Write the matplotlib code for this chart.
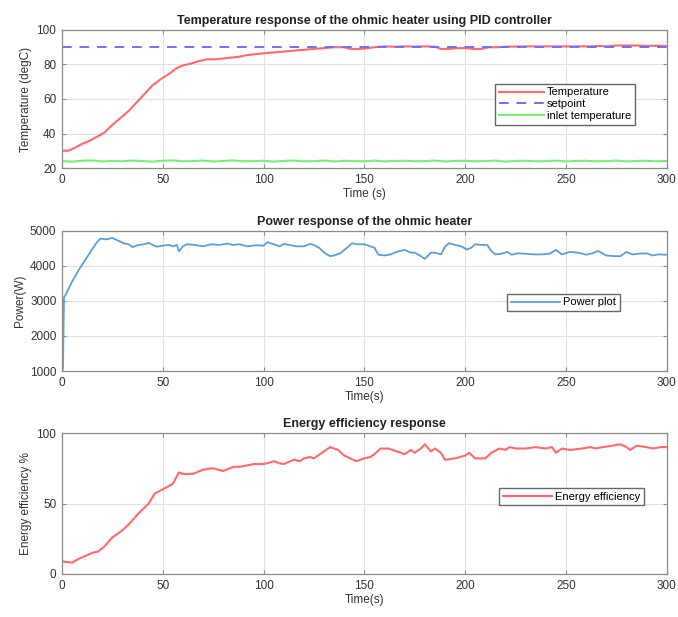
import numpy as np
import matplotlib
matplotlib.use("Agg")
import matplotlib.pyplot as plt

plt.rcParams['font.family'] = ['Liberation Sans', 'DejaVu Sans']

# ---- Data ----
temp_t = [0, 3, 6, 10, 14, 18, 21, 25, 29, 33, 37, 41, 45, 49, 53, 57, 60, 64, 68, 72, 76, 80,
          84, 88, 92, 96, 100, 105, 110, 115, 120, 125, 130, 135, 140, 143, 147, 150, 155, 160,
          165, 170, 175, 180, 185, 188, 192, 196, 200, 204, 208, 212, 216, 220, 230, 240, 250,
          260, 265, 270, 275, 280, 285, 290, 295, 300]
temp_v = [30, 30, 31.5, 34, 36, 38.5, 40.5, 45, 49, 53, 58, 63, 68, 71.5, 74.5, 78, 79.5, 80.5,
          82, 83, 83, 83.5, 84, 84.5, 85.5, 86, 86.5, 87, 87.5, 88, 88.5, 89, 89.5, 90, 90, 89,
          89, 89.2, 90, 90.5, 90.3, 90.5, 90.4, 90.5, 90.3, 89, 89, 89.5, 89.5, 89, 89, 90, 90,
          90.3, 90.5, 90.5, 90.5, 90.5, 90.7, 90.5, 91, 91, 91, 90.8, 90.8, 90.8]

setpoint_t = [0, 300]
setpoint_v = [90, 90]

inlet_t = list(range(0, 301, 5))
inlet_v = [24, 23.7, 24.2, 24.4, 23.8, 24.1, 23.9, 24.3, 24.0, 23.7, 24.2, 24.4, 23.9, 24.0,
           24.3, 23.8, 24.1, 24.4, 23.9, 24.0, 24.2, 23.7, 24.1, 24.3, 23.9, 24.0, 24.3, 23.8,
           24.2, 24.0, 23.9, 24.3, 23.8, 24.1, 24.2, 23.9, 24.0, 24.3, 23.8, 24.1, 24.2, 23.9,
           24.0, 24.3, 23.7, 24.1, 24.2, 23.9, 24.0, 24.3, 23.8, 24.1, 24.2, 23.9, 24.0, 24.3,
           23.8, 24.1, 24.2, 23.9, 24.1]

power_t = [0, 0.5, 1, 2, 5, 9, 13, 17, 19, 22, 25, 28, 31, 33, 35, 38, 41, 43, 45, 47, 50, 53,
           55, 57, 58, 60, 62, 66, 70, 74, 78, 82, 85, 88, 92, 96, 100, 102, 105, 108, 110, 113,
           116, 120, 123, 125, 128, 130, 133, 135, 138, 141, 144, 146, 150, 153, 155, 157, 160,
           163, 166, 170, 173, 175, 178, 180, 183, 185, 188, 190, 192, 195, 198, 201, 203, 205,
           208, 211, 213, 215, 218, 221, 223, 226, 230, 234, 238, 242, 245, 248, 252, 256, 260,
           263, 266, 270, 274, 277, 280, 283, 286, 290, 293, 296, 300]
power_v = [1000, 1050, 3100, 3200, 3550, 3950, 4300, 4650, 4780, 4760, 4800, 4720, 4640, 4620,
           4540, 4600, 4620, 4660, 4600, 4550, 4580, 4600, 4560, 4600, 4420, 4560, 4620, 4600,
           4560, 4620, 4600, 4640, 4600, 4620, 4560, 4590, 4580, 4680, 4620, 4560, 4630, 4600,
           4560, 4560, 4630, 4600, 4500, 4380, 4280, 4300, 4360, 4500, 4650, 4620, 4620, 4560,
           4520, 4320, 4300, 4330, 4400, 4460, 4380, 4380, 4280, 4200, 4380, 4380, 4330, 4550,
           4650, 4600, 4560, 4470, 4520, 4620, 4600, 4600, 4420, 4330, 4350, 4400, 4320, 4360,
           4350, 4330, 4330, 4350, 4460, 4330, 4400, 4380, 4320, 4360, 4430, 4300, 4280, 4280,
           4400, 4330, 4350, 4360, 4300, 4330, 4320]

eff_t = [0, 5, 8, 12, 15, 18, 21, 25, 30, 33, 38, 43, 46, 50, 55, 58, 60, 65, 70, 75, 80, 85,
         88, 92, 95, 100, 103, 105, 108, 110, 115, 118, 120, 123, 125, 130, 133, 137, 140, 143,
         146, 150, 153, 155, 158, 162, 166, 168, 170, 173, 175, 178, 180, 183, 185, 188, 190,
         195, 200, 202, 205, 210, 213, 217, 220, 222, 225, 230, 235, 240, 243, 245, 248, 252,
         258, 262, 265, 268, 273, 277, 280, 282, 285, 290, 293, 297, 300]
eff_v = [9, 8, 10.5, 13, 15, 16, 19.5, 26, 31, 35, 43, 50, 57, 60, 64, 72, 71, 71, 74, 75, 73,
         76, 76, 77, 78, 78, 79, 80, 78.5, 78, 81, 80, 82, 83, 82, 87, 90, 88, 84, 82, 80, 82,
         83, 85, 89, 89, 87, 86, 85, 88, 86, 89, 92, 87, 89, 86, 81, 82, 84, 86, 82, 82, 86, 89,
         88, 90, 89, 89, 90, 89, 90, 86, 89, 88, 89, 90, 89, 90, 91, 92, 90, 88, 91, 90, 89, 90,
         90]

# ---- Figure ----
fig = plt.figure(figsize=(6.78, 6.17), dpi=100)
left, width = 0.0914, 0.892
ax1 = fig.add_axes([left, 0.7277, width, 0.2237])
ax2 = fig.add_axes([left, 0.3987, width, 0.2270])
ax3 = fig.add_axes([left, 0.0697, width, 0.2285])

tick_fs = 8.5
lab_fs = 8.5
title_fs = 9
leg_fs = 8

def style(ax):
    ax.grid(True, color='#e2e2e2', linewidth=0.8)
    ax.set_axisbelow(True)
    for s in ax.spines.values():
        s.set_color('#8c8c8c')
        s.set_linewidth(0.9)
    ax.tick_params(direction='in', length=3, colors='#8c8c8c', labelcolor='#333333',
                   labelsize=tick_fs, top=True, right=True, pad=4)
    ax.set_xlim(0, 300)
    ax.set_xticks(range(0, 301, 50))

ax1.plot(temp_t, temp_v, color='#ff6a6a', lw=1.5, label='Temperature')
ax1.plot(setpoint_t, setpoint_v, color='#7070ff', lw=1.4, ls=(0, (5, 4)), label='setpoint')
ax1.plot(inlet_t, inlet_v, color='#77ee77', lw=1.5, label='inlet temperature')
style(ax1)
ax1.set_ylim(20, 100)
ax1.set_yticks(range(20, 101, 20))
ax1.set_title('Temperature response of the ohmic heater using PID controller',
              fontsize=title_fs, fontweight='bold', pad=4, color='#222222')
ax1.set_xlabel('Time (s)', fontsize=lab_fs, color='#333333', labelpad=2)
ax1.set_ylabel('Temperature (degC)', fontsize=lab_fs, color='#333333', labelpad=3)
ax1.legend(loc='upper right', bbox_to_anchor=(0.957, 0.652), fontsize=leg_fs, fancybox=False,
           edgecolor='#666666', framealpha=1, handlelength=4.0, borderpad=0.35,
           labelspacing=0.15, handletextpad=0.3)

ax2.plot(power_t, power_v, color='#5aa0d8', lw=1.3, label='Power plot')
style(ax2)
ax2.set_ylim(1000, 5000)
ax2.set_yticks(range(1000, 5001, 1000))
ax2.set_title('Power response of the ohmic heater', fontsize=title_fs, fontweight='bold',
              pad=4, color='#222222')
ax2.set_xlabel('Time(s)', fontsize=lab_fs, color='#333333', labelpad=2)
ax2.set_ylabel('Power(W)', fontsize=lab_fs, color='#333333', labelpad=3)
ax2.legend(loc='upper right', bbox_to_anchor=(0.932, 0.593), fontsize=leg_fs, fancybox=False,
           edgecolor='#666666', framealpha=1, handlelength=4.4, borderpad=0.35,
           handletextpad=0.3)

ax3.plot(eff_t, eff_v, color='#ff6a6a', lw=1.5, label='Energy efficiency')
style(ax3)
ax3.set_ylim(0, 100)
ax3.set_yticks([0, 50, 100])
ax3.set_title('Energy efficiency response', fontsize=title_fs, fontweight='bold', pad=4,
              color='#222222')
ax3.set_xlabel('Time(s)', fontsize=lab_fs, color='#333333', labelpad=2)
ax3.set_ylabel('Energy efficiency %', fontsize=lab_fs, color='#333333', labelpad=3)
ax3.legend(loc='upper right', bbox_to_anchor=(0.972, 0.652), fontsize=leg_fs, fancybox=False,
           edgecolor='#666666', framealpha=1, handlelength=4.4, borderpad=0.35,
           handletextpad=0.3)

fig.savefig('out.png', dpi=100)
